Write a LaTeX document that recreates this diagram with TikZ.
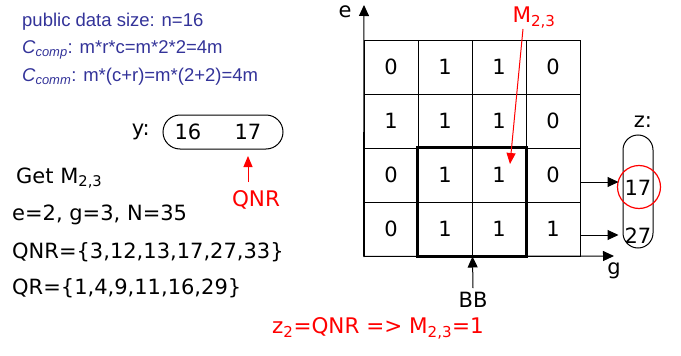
\documentclass[tikz,border=0pt]{standalone}
\usepackage{fontspec}
\setmainfont{DejaVu Sans}
\newfontfamily\arialf{Liberation Sans}
\usetikzlibrary{arrows.meta}
\definecolor{txtblue}{RGB}{51,51,153}
\definecolor{myred}{RGB}{255,0,0}
\tikzset{
  cell/.style={draw, line width=1pt, minimum size=54pt, inner sep=0pt, font=\fontsize{21}{25}\selectfont},
  lbl/.style={inner sep=0pt, font=\fontsize{21}{25}\selectfont},
  bluetxt/.style={inner sep=0pt, anchor=west, text=txtblue, font=\arialf\fontsize{18.5}{22}\selectfont},
  blktxt/.style={inner sep=0pt, anchor=west, font=\fontsize{21}{25}\selectfont},
  redtxt/.style={inner sep=0pt, text=myred, font=\fontsize{21.5}{25}\selectfont},
  pill/.style={draw, line width=1pt},
  blkarrow/.style={line width=1pt, -{Triangle[length=11pt,width=10pt]}},
  redarrow/.style={draw=myred, line width=1pt, -{Triangle[length=11pt,width=9pt]}, color=myred},
}
\begin{document}
\begin{tikzpicture}[x=1pt,y=-1pt]
\useasboundingbox (0,0) rectangle (681,356);
% left texts
\node[bluetxt] (t1) at (22,22) {public data size: n=16};
\node[bluetxt] (t2) at (22,50) {\textit{C\textsubscript{comp}}: m*r*c=m*2*2=4m};
\node[bluetxt] (t3) at (22,77) {\textit{C\textsubscript{comm}}: m*(c+r)=m*(2+2)=4m};
% y pill
\node[lbl, anchor=east] (ylab) at (150,132) {y:};
\node[pill, minimum width=120pt, minimum height=34pt, rounded corners=17pt] (ypill) at (223,132) {};
\node[lbl] (y16) at (188,132) {16};
\node[lbl] (y17) at (248,132) {17};
\node[redtxt] (qnr) at (256,200) {QNR};
\coordinate (qnrtail) at (248,182);
\draw[redarrow] (qnrtail) -- (248,156);
% left black text
\node[blktxt] (get) at (16,178) {Get M\textsubscript{2,3}};
\node[blktxt] (eg) at (12,215) {e=2, g=3, N=35};
\node[blktxt] (qnrset) at (12,252) {QNR=\{3,12,13,17,27,33\}};
\node[blktxt] (qrset) at (12,288) {QR=\{1,4,9,11,16,29\}};
% grid
\foreach \r/\vals in {1/{0,1,1,0},2/{1,1,1,0},3/{0,1,1,0},4/{0,1,1,1}}{
  \foreach \v [count=\c] in \vals {
    \node[cell] (c\r\c) at ({364+54*\c-27},{40+54*\r-27}) {\v};
  }
}
% bold box
\draw[line width=3pt] (c32.north west) rectangle (c43.south east);
% axes
\coordinate (etip) at (364,5);
\coordinate (gtip) at (614,256);
\draw[blkarrow] (c41.south west) -- (etip);
\draw[blkarrow] (c41.south west) -- (gtip);
\node[lbl] (elab) at (345,12) {e};
\node[lbl] (glab) at (614,271) {g};
% BB
\node[lbl] (bb) at (473,300) {BB};
\draw[blkarrow] (bb.north) ++(0,-4) coordinate (bbt) -- (c42.south east);
% M23 label
\node[redtxt] (m23) at (534,18) {M\textsubscript{2,3}};
\coordinate (mtip) at (510,164);
\draw[redarrow] (523,29) -- (mtip);
% z pill
\node[lbl] (zlab) at (643,122) {z:};
\node[pill, minimum width=30pt, minimum height=113pt, rounded corners=15pt] (zpill) at (638,191.5) {};
\node[lbl] (z17) at (638,188) {17};
\node[lbl] (z27) at (638,236) {27};
\draw[myred, line width=1.2pt] (639,187) circle (21.5);
\draw[blkarrow] ([yshift=-7pt]c34.east) -- ([yshift=-7pt,xshift=-4pt]c34.east -| zpill.west);
\draw[blkarrow] ([yshift=-6pt]c44.east) -- ([yshift=-6pt,xshift=-4pt]c44.east -| zpill.west);
% bottom
\node[redtxt] (res) at (378,328) {z\textsubscript{2}=QNR => M\textsubscript{2,3}=1};
\end{tikzpicture}
\end{document}
